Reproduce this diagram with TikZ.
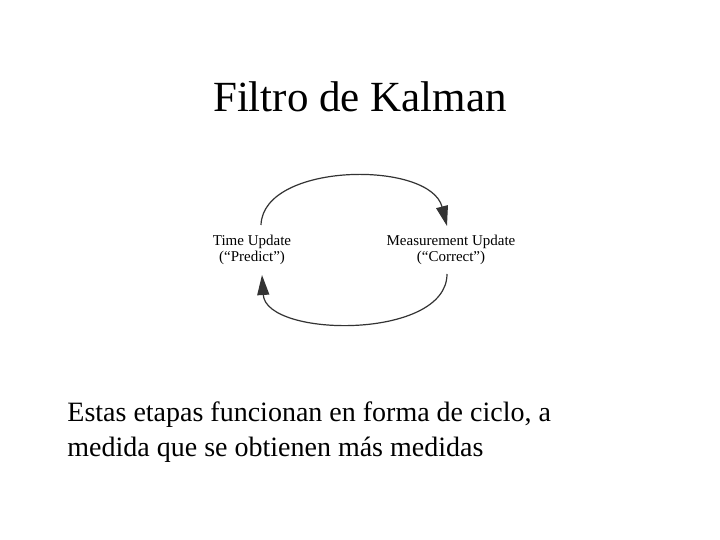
\documentclass[tikz,border=0pt]{standalone}
\usepackage{fontspec}
\setmainfont{Liberation Serif}
\usetikzlibrary{arrows.meta}
\begin{document}
\begin{tikzpicture}[x=0.5pt,y=-0.5pt,
  cycleline/.style={draw=black!80, line width=0.6pt, -{Triangle[length=10pt,width=6pt]}},
  stagelabel/.style={inner sep=0pt, align=center, font=\fontsize{7.5pt}{8pt}\selectfont}]
\useasboundingbox (0,0) rectangle (720,540);
\fill[white] (0,0) rectangle (720,540);
\node[anchor=base, inner sep=0pt, font=\fontsize{21.5pt}{25pt}\selectfont] (title) at (360,112) {Filtro de Kalman};
\node[stagelabel, anchor=base] (time) at (252,262) {Time Update\\(“Predict”)};
\node[stagelabel, anchor=base] (meas) at (451,262) {Measurement Update\\(“Correct”)};
\coordinate (ts) at (261,225);
\coordinate (te) at (447,226);
\coordinate (bs) at (447,274);
\coordinate (be) at (262,275);
\draw[cycleline] (ts) .. controls (263,162) and (430,160) .. (te);
\draw[cycleline] (bs) .. controls (447,340) and (266,338) .. (be);
\node[anchor=base west, inner sep=0pt, align=left, font=\fontsize{14pt}{17.5pt}\selectfont] (body) at (67,457) {Estas etapas funcionan en forma de ciclo, a\\medida que se obtienen más medidas};
\end{tikzpicture}
\end{document}
